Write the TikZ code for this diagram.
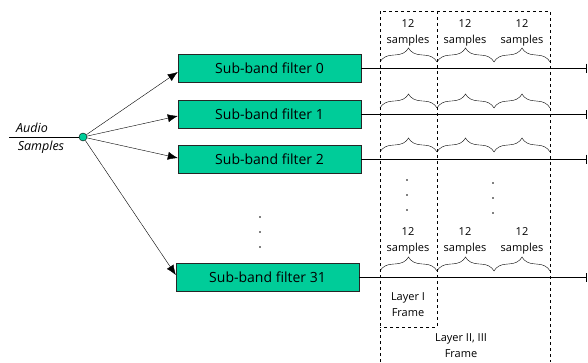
\documentclass[tikz,border=0pt]{standalone}
\usepackage{fontspec}
\setmainfont{Open Sans}
\usetikzlibrary{arrows.meta, positioning, calc, decorations.pathreplacing}
\definecolor{FilterGreen}{RGB}{0,204,153}

\begin{document}
\begin{tikzpicture}[x=1pt, y=-1pt,
	filter/.style={draw=black!85, fill=FilterGreen, minimum width=183pt,
		minimum height=28pt, inner sep=0pt, font=\fontsize{14}{16}\selectfont},
	feed/.style={-{Latex[length=10pt,width=8pt]}},
	bus/.style={-{Bar[width=9pt]}},
	frame/.style={dashed, semithick},
	grp/.style={decorate, decoration={brace, amplitude=14pt}},
	lbl/.style={align=center, inner sep=0pt, font=\fontsize{11}{16}\selectfont}]
	\useasboundingbox (0,0) rectangle (588,362);

	\node[filter] (f0) at (269.5,68) {Sub-band filter 0};
	\node[filter] (f1) at (269.5,114.5) {Sub-band filter 1};
	\node[filter] (f2) at (269.5,159) {Sub-band filter 2};
	\node[filter] (f31) at (267.5,277.5) {Sub-band filter 31};

	\node[circle, draw, fill=FilterGreen, inner sep=0pt, minimum size=8pt] (src) at (83,137) {};
	\coordinate (in) at (9,137);
	\draw (in) -- (src);
	\node[lbl, font=\fontsize{12.5}{14}\selectfont\itshape] (audio) at (32,128) {Audio};
	\node[lbl, font=\fontsize{12.5}{14}\selectfont\itshape] (samples) at (41,147) {Samples};

	\draw[feed] (src) -- ([yshift=-4pt]f0.west);
	\draw[feed] (src) -- ([yshift=-1.5pt]f1.west);
	\draw[feed] (src) -- ([yshift=1pt]f2.west);
	\draw[feed] (src) -- ([yshift=2.5pt]f31.west);

	\coordinate (e0) at (586.5,68);
	\coordinate (e1) at (586.5,114.5);
	\coordinate (e2) at (586.5,159);
	\coordinate (e31) at (586.5,277.5);
	\foreach \n in {0,1,2,31}
		\draw[bus] (f\n.east) -- (e\n);

	\draw[frame] (380,362) -- (380,11) -- (550,11) -- (550,362);
	\draw[frame] (437,11) -- (437,327) -- (380,327);

	\foreach \y in {62,108,152,271}
		\foreach \a/\b in {380/437,437/494,494/550}
			\draw[grp] (\a,\y) -- (\b,\y);

	\foreach \x in {408,465,522} {
		\node[lbl] at (\x,33) {12\\samples};
		\node[lbl] at (\x,241) {12\\samples};
	}

	\foreach \y in {217,232,247}
		\fill (260,\y) circle (0.8pt);
	\foreach \y in {180,195,210}
		\fill (407,\y) circle (0.8pt);
	\foreach \y in {183,198,213}
		\fill (493,\y) circle (0.8pt);

	\node[lbl] (l1) at (408,305) {Layer I\\Frame};
	\node[lbl] (l23) at (461,346) {Layer II, III\\Frame};
\end{tikzpicture}
\end{document}
